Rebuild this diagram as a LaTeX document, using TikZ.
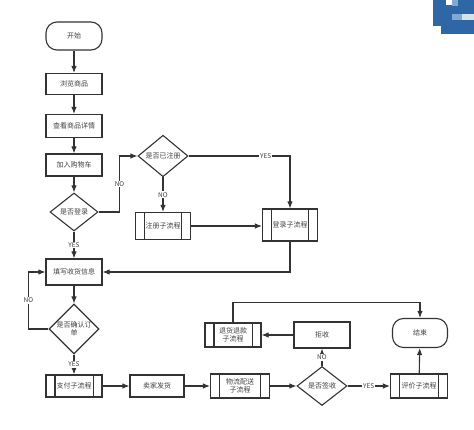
\documentclass[tikz,border=0pt]{standalone}
\usepackage{fontspec}
\newfontfamily\cjk{Noto Sans CJK SC}
\usetikzlibrary{arrows.meta,shapes.geometric}

\definecolor{edge}{HTML}{333333}
\definecolor{ink}{HTML}{404040}
\definecolor{logoblue}{HTML}{2F67A6}
\definecolor{logolight}{HTML}{7FA9D6}

\tikzset{
  line/.style={draw=edge, line width=1.1pt},
  arr/.style={line, -{Latex[length=7pt,width=5.5pt]}},
  proc/.style={line, rectangle, minimum width=56pt, minimum height=22pt,
    font=\cjk\fontsize{7}{8.5}\selectfont, text=ink, inner sep=1pt, align=center},
  term/.style={proc, rounded corners=11pt, minimum height=28pt},
  cond/.style={line, diamond, minimum width=50pt, minimum height=39pt, inner sep=0pt,
    font=\cjk\fontsize{7}{8.5}\selectfont, text=ink, align=center},
  lbl/.style={font=\cjk\fontsize{6.5}{7}\selectfont, text=ink, fill=white, inner sep=0.8pt}
}

\begin{document}
\begin{tikzpicture}[x=1pt,y=-1pt]
  \useasboundingbox (0,0) rectangle (474,430);
  % logo in the corner
  \fill[logoblue] (433,0) rectangle (474,26);
  \fill[logoblue] (441,26) rectangle (474,34);
  \fill[white] (446,0) rectangle (452,5);
  \fill[logolight] (452,0) rectangle (458,6);
  \fill[logolight] (452,14) rectangle (462,20);
  \fill[white!80!logoblue] (462,14) rectangle (474,20);

  % main column
  \node[term] (start) at (74,36) {开始};
  \node[proc, minimum height=21pt] (browse) at (74,84) {浏览商品};
  \node[proc, minimum height=23pt] (detail) at (74,126) {查看商品详情};
  \node[proc] (cart) at (74,165) {加入购物车};
  \node[cond, minimum width=48pt, minimum height=38pt] (login) at (74,212) {是否登录};
  \node[proc, minimum height=26pt] (info) at (74,272) {填写收货信息};
  \node[cond, minimum width=49pt] (confirm) at (74,329) {是否确认订\\单};
  \node[proc] (pay) at (74,386) {支付子流程};

  % register branch
  \node[cond, minimum height=38pt] (reg) at (163,156) {是否已注册};
  \node[proc, minimum width=55pt, minimum height=27pt] (regsub) at (163,226) {注册子流程};
  \node[proc, minimum width=55pt, minimum height=32pt] (loginsub) at (290,225) {登录子流程};

  % bottom row
  \node[proc, minimum width=54pt] (seller) at (157,386) {卖家发货};
  \node[proc, minimum width=59pt, minimum height=24pt] (ship) at (240,386) {物流配送\\子流程};
  \node[cond] (sign) at (322,386) {是否签收};
  \node[proc, minimum width=57pt, minimum height=24pt] (review) at (419,386) {评价子流程};
  \node[proc, minimum height=26pt] (reject) at (322,335) {拒收};
  \node[proc, minimum height=24pt] (refund) at (233,335) {退货退款\\子流程};
  \node[term, minimum width=55pt, minimum height=29pt] (end) at (420,333) {结束};

  % side bars of the sub-process boxes
  \foreach \n in {pay,regsub,loginsub,ship,review,refund}{
    \draw[line] ([xshift=9.5pt]\n.north west) -- ([xshift=9.5pt]\n.south west);
    \draw[line] ([xshift=-9.5pt]\n.north east) -- ([xshift=-9.5pt]\n.south east);
  }

  \draw[arr] (start) -- (browse);
  \draw[arr] (browse) -- (detail);
  \draw[arr] (detail) -- (cart);
  \draw[arr] (cart) -- (login);
  \draw[arr] (login) -- node[lbl]{YES} (info);
  \draw[arr] (login.east) -- ++(21,0) |- node[lbl, pos=0.25]{NO} (reg.west);
  \draw[arr] (reg) -- node[lbl]{NO} (regsub);
  \draw[arr] (reg.east) -| node[lbl, pos=0.38]{YES} (loginsub.north);
  \draw[arr] (regsub.east) -- (regsub.east -| loginsub.west);
  \draw[arr] (loginsub.south) |- (info.east);
  \draw[arr] (info) -- (confirm);
  \draw[arr] (confirm.west) -- ++(-20,0) |- node[lbl, pos=0.25]{NO} (info.west);
  \draw[arr] (confirm) -- node[lbl]{YES} (pay);
  \draw[arr] (pay) -- (seller);
  \draw[arr] (seller) -- (ship);
  \draw[arr] (ship) -- (sign);
  \draw[arr] (sign) -- node[lbl]{YES} (review);
  \draw[arr] (sign) -- node[lbl]{NO} (reject);
  \draw[arr] (reject) -- (refund);
  \draw[arr] (review) -- (end);
  \draw[arr] (refund.north) -- ++(0,-20) -| (end.north);
\end{tikzpicture}
\end{document}
